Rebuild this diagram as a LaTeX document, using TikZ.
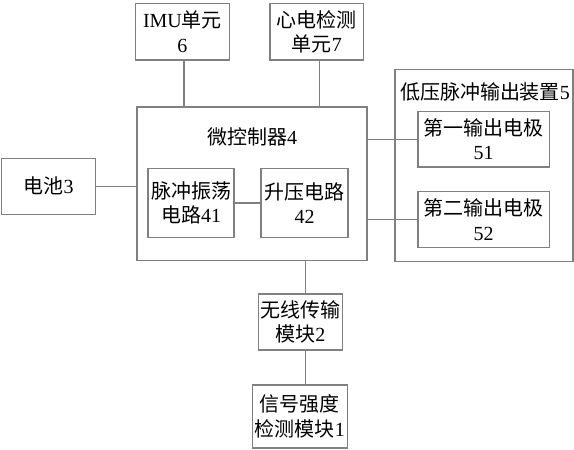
\documentclass[tikz,border=0pt]{standalone}
\usepackage{fontspec}
\setmainfont{Liberation Serif}
\newfontfamily\cjk{Noto Sans CJK SC}
\newcommand{\zh}[1]{{\cjk #1}}
\usetikzlibrary{positioning}

\begin{document}
\begin{tikzpicture}[x=0.5pt, y=-0.5pt,
  every node/.style={font=\fontsize{10}{12.3}\selectfont, align=center, inner sep=0pt},
  blk/.style={draw=black!50, line width=0.6pt, rectangle},
  link/.style={draw=black!50, line width=0.6pt}]
  \useasboundingbox (0,0) rectangle (574,450);
  % upper units
  \node[blk, minimum width=47pt, minimum height=28.3pt] (imu) at (182.5,31.7) {IMU\zh{单元}\\6};
  \node[blk, minimum width=46.8pt, minimum height=28.3pt] (ecg) at (316.8,31.7) {\zh{心电检测}\\\zh{单元}7};
  % controller
  \node[blk, minimum width=115pt, minimum height=76.8pt] (mcu) at (252,183.8) {};
  \node (mcutitle) at (252,136.7) {\zh{微控制器}4};
  \node[blk, minimum width=43pt, minimum height=34.7pt] (osc) at (191,203) {\zh{脉冲振荡}\\\zh{电路}41};
  \node[blk, minimum width=43.5pt, minimum height=34.7pt] (boost) at (304.5,203) {\zh{升压电路}\\42};
  % battery
  \node[blk, minimum width=47pt, minimum height=27.9pt] (bat) at (48.7,186.2) {\zh{电池}3};
  % output device
  \node[blk, minimum width=89pt, minimum height=95.8pt] (pulse) at (484,165.3) {};
  \node (pulsetitle) at (485,92) {\zh{低压脉冲输出装置}5};
  \node[blk, minimum width=65.7pt, minimum height=27.7pt] (out1) at (483.7,139.3) {\zh{第一输出电极}\\51};
  \node[blk, minimum width=65.7pt, minimum height=27.8pt] (out2) at (483.7,219.5) {\zh{第二输出电极}\\52};
  % lower modules
  \node[blk, minimum width=42pt, minimum height=28pt] (wl) at (300.3,322) {\zh{无线传输}\\\zh{模块}2};
  \node[blk, minimum width=47.5pt, minimum height=31.5pt] (sig) at (299.8,416.5) {\zh{信号强度}\\\zh{检测模块}1};

  \draw[link] ([xshift=0.7pt]imu.south) -- ([xshift=0.7pt]imu.south |- mcu.north);
  \draw[link] ([xshift=1.5pt]ecg.south) -- ([xshift=1.5pt]ecg.south |- mcu.north);
  \draw[link] (bat) -- (bat -| mcu.west);
  \draw[link] (osc) -- (boost);
  \draw[link] (out1 -| mcu.east) -- (out1);
  \draw[link] (out2 -| mcu.east) -- (out2);
  \draw[link] ([xshift=2.7pt]wl.north) -- ([xshift=2.7pt]wl.north |- mcu.south);
  \draw[link] ([xshift=2.7pt]wl.south) -- ([xshift=2.7pt]wl.south |- sig.north);
\end{tikzpicture}
\end{document}
